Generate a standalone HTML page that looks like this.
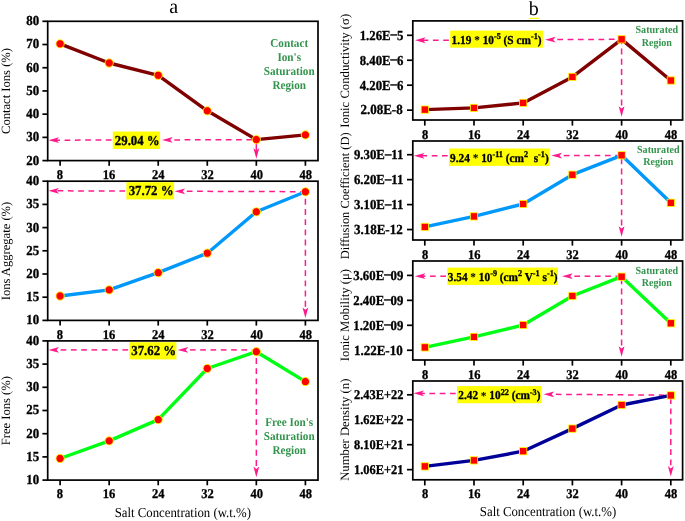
<!DOCTYPE html><html><head><meta charset="utf-8"><style>html,body{margin:0;padding:0;background:#fff;}body{width:685px;height:521px;overflow:hidden;}svg{display:block;will-change:transform;}text{font-family:"Liberation Serif",serif;text-rendering:geometricPrecision;}</style></head><body>
<svg width="685" height="521" viewBox="0 0 685 521">
<rect width="685" height="521" fill="#fff"/>
<text x="173.6" y="13.1" font-size="20" text-anchor="middle" font-weight="normal" fill="#000">a</text>
<text x="533.7" y="14.6" font-size="20" text-anchor="middle" font-weight="normal" fill="#000">b</text>
<line x1="528.9" y1="18.4" x2="538.9" y2="18.4" stroke="#ffff00" stroke-width="1.2"/>
<line x1="42.4" y1="160.6" x2="47.7" y2="160.6" stroke="#000" stroke-width="1.7"/>
<text transform="translate(39.2,164.5) scale(1,1.07)" font-size="12.9" text-anchor="end" font-weight="bold" fill="#000" stroke="#000" stroke-width="0.3">20</text>
<line x1="42.4" y1="137.38" x2="47.7" y2="137.38" stroke="#000" stroke-width="1.7"/>
<text transform="translate(39.2,141.28) scale(1,1.07)" font-size="12.9" text-anchor="end" font-weight="bold" fill="#000" stroke="#000" stroke-width="0.3">30</text>
<line x1="42.4" y1="114.17" x2="47.7" y2="114.17" stroke="#000" stroke-width="1.7"/>
<text transform="translate(39.2,118.07) scale(1,1.07)" font-size="12.9" text-anchor="end" font-weight="bold" fill="#000" stroke="#000" stroke-width="0.3">40</text>
<line x1="42.4" y1="90.95" x2="47.7" y2="90.95" stroke="#000" stroke-width="1.7"/>
<text transform="translate(39.2,94.85) scale(1,1.07)" font-size="12.9" text-anchor="end" font-weight="bold" fill="#000" stroke="#000" stroke-width="0.3">50</text>
<line x1="42.4" y1="67.73" x2="47.7" y2="67.73" stroke="#000" stroke-width="1.7"/>
<text transform="translate(39.2,71.63) scale(1,1.07)" font-size="12.9" text-anchor="end" font-weight="bold" fill="#000" stroke="#000" stroke-width="0.3">60</text>
<line x1="42.4" y1="44.52" x2="47.7" y2="44.52" stroke="#000" stroke-width="1.7"/>
<text transform="translate(39.2,48.42) scale(1,1.07)" font-size="12.9" text-anchor="end" font-weight="bold" fill="#000" stroke="#000" stroke-width="0.3">70</text>
<line x1="42.4" y1="21.3" x2="47.7" y2="21.3" stroke="#000" stroke-width="1.7"/>
<text transform="translate(39.2,25.2) scale(1,1.07)" font-size="12.9" text-anchor="end" font-weight="bold" fill="#000" stroke="#000" stroke-width="0.3">80</text>
<line x1="60.1" y1="160.6" x2="60.1" y2="165.8" stroke="#000" stroke-width="1.7"/>
<text transform="translate(59.95,178.9) scale(1,1.07)" font-size="12.5" text-anchor="middle" font-weight="bold" fill="#000" stroke="#000" stroke-width="0.3">8</text>
<line x1="109.16" y1="160.6" x2="109.16" y2="165.8" stroke="#000" stroke-width="1.7"/>
<text transform="translate(109.12,178.9) scale(1,1.07)" font-size="12.5" text-anchor="middle" font-weight="bold" fill="#000" stroke="#000" stroke-width="0.3">16</text>
<line x1="158.22" y1="160.6" x2="158.22" y2="165.8" stroke="#000" stroke-width="1.7"/>
<text transform="translate(158.29,178.9) scale(1,1.07)" font-size="12.5" text-anchor="middle" font-weight="bold" fill="#000" stroke="#000" stroke-width="0.3">24</text>
<line x1="207.28" y1="160.6" x2="207.28" y2="165.8" stroke="#000" stroke-width="1.7"/>
<text transform="translate(207.46,178.9) scale(1,1.07)" font-size="12.5" text-anchor="middle" font-weight="bold" fill="#000" stroke="#000" stroke-width="0.3">32</text>
<line x1="256.34" y1="160.6" x2="256.34" y2="165.8" stroke="#000" stroke-width="1.7"/>
<text transform="translate(256.63,178.9) scale(1,1.07)" font-size="12.5" text-anchor="middle" font-weight="bold" fill="#000" stroke="#000" stroke-width="0.3">40</text>
<line x1="305.4" y1="160.6" x2="305.4" y2="165.8" stroke="#000" stroke-width="1.7"/>
<text transform="translate(305.8,178.9) scale(1,1.07)" font-size="12.5" text-anchor="middle" font-weight="bold" fill="#000" stroke="#000" stroke-width="0.3">48</text>
<rect x="47.7" y="21.3" width="270.3" height="139.3" fill="none" stroke="#000" stroke-width="1.7"/>
<text transform="translate(9.6,91) rotate(-90)" font-size="12.6" text-anchor="middle" fill="#000">Contact Ions (%)</text>
<line x1="174.3" y1="139.9" x2="180" y2="139.88" stroke="#ff1a8c" stroke-width="1.5"/>
<line x1="184.6" y1="139.87" x2="190.3" y2="139.86" stroke="#ff1a8c" stroke-width="1.5"/>
<line x1="194.9" y1="139.85" x2="200.6" y2="139.83" stroke="#ff1a8c" stroke-width="1.5"/>
<line x1="205.2" y1="139.82" x2="210.9" y2="139.81" stroke="#ff1a8c" stroke-width="1.5"/>
<line x1="215.5" y1="139.8" x2="221.2" y2="139.78" stroke="#ff1a8c" stroke-width="1.5"/>
<line x1="225.8" y1="139.77" x2="231.5" y2="139.76" stroke="#ff1a8c" stroke-width="1.5"/>
<line x1="236.1" y1="139.75" x2="241.8" y2="139.73" stroke="#ff1a8c" stroke-width="1.5"/>
<line x1="246.4" y1="139.72" x2="252.1" y2="139.71" stroke="#ff1a8c" stroke-width="1.5"/>
<path d="M162,139.93 L172.6,137 L170.2,139.91 L172.6,142.8 Z" fill="#ff1a8c"/>
<line x1="111.5" y1="140.05" x2="105.8" y2="140.06" stroke="#ff1a8c" stroke-width="1.5"/>
<line x1="101.2" y1="140.07" x2="95.5" y2="140.09" stroke="#ff1a8c" stroke-width="1.5"/>
<line x1="90.9" y1="140.1" x2="85.2" y2="140.11" stroke="#ff1a8c" stroke-width="1.5"/>
<line x1="80.6" y1="140.12" x2="74.9" y2="140.14" stroke="#ff1a8c" stroke-width="1.5"/>
<line x1="70.3" y1="140.15" x2="64.6" y2="140.16" stroke="#ff1a8c" stroke-width="1.5"/>
<line x1="60" y1="140.17" x2="55.9" y2="140.18" stroke="#ff1a8c" stroke-width="1.5"/>
<path d="M48.4,140.2 L59,137.27 L56.6,140.18 L59,143.07 Z" fill="#ff1a8c"/>
<line x1="256.34" y1="139.6" x2="256.34" y2="150.8" stroke="#ff1a8c" stroke-width="1.5"/>
<path d="M256.34,158.8 L253.44,148.2 L256.34,150.6 L259.24,148.2 Z" fill="#ff1a8c"/>
<polyline points="60.1,43.8 109.16,63 158.22,75.3 207.28,110.8 256.34,139.6 305.4,134.9" fill="none" stroke="#800000" stroke-width="3.4" stroke-linejoin="round"/>
<circle cx="60.1" cy="43.8" r="4.15" fill="#ff0000" stroke="#ffff00" stroke-width="0.9"/>
<circle cx="109.16" cy="63" r="4.15" fill="#ff0000" stroke="#ffff00" stroke-width="0.9"/>
<circle cx="158.22" cy="75.3" r="4.15" fill="#ff0000" stroke="#ffff00" stroke-width="0.9"/>
<circle cx="207.28" cy="110.8" r="4.15" fill="#ff0000" stroke="#ffff00" stroke-width="0.9"/>
<circle cx="256.34" cy="139.6" r="4.15" fill="#ff0000" stroke="#ffff00" stroke-width="0.9"/>
<circle cx="305.4" cy="134.9" r="4.15" fill="#ff0000" stroke="#ffff00" stroke-width="0.9"/>
<rect x="112.8" y="131.5" width="47.3" height="17.5" fill="#ffff00"/>
<text transform="translate(137.25,144.7) scale(1,1.07)" font-size="12.8" text-anchor="middle" font-weight="bold" fill="#000" stroke="#000" stroke-width="0.3">29.04 %</text>
<text transform="translate(289.2,46.6) scale(1,1.07)" font-size="11.2" text-anchor="middle" font-weight="bold" fill="#34944d">Contact</text>
<text transform="translate(289.2,60.7) scale(1,1.07)" font-size="11.2" text-anchor="middle" font-weight="bold" fill="#34944d">Ion's</text>
<text transform="translate(289.2,74.7) scale(1,1.07)" font-size="11.2" text-anchor="middle" font-weight="bold" fill="#34944d">Saturation</text>
<text transform="translate(289.2,88.7) scale(1,1.07)" font-size="11.2" text-anchor="middle" font-weight="bold" fill="#34944d">Region</text>
<line x1="42.4" y1="320.4" x2="47.7" y2="320.4" stroke="#000" stroke-width="1.7"/>
<text transform="translate(39.2,324.3) scale(1,1.07)" font-size="12.9" text-anchor="end" font-weight="bold" fill="#000" stroke="#000" stroke-width="0.3">10</text>
<line x1="42.4" y1="297.2" x2="47.7" y2="297.2" stroke="#000" stroke-width="1.7"/>
<text transform="translate(39.2,301.1) scale(1,1.07)" font-size="12.9" text-anchor="end" font-weight="bold" fill="#000" stroke="#000" stroke-width="0.3">15</text>
<line x1="42.4" y1="274" x2="47.7" y2="274" stroke="#000" stroke-width="1.7"/>
<text transform="translate(39.2,277.9) scale(1,1.07)" font-size="12.9" text-anchor="end" font-weight="bold" fill="#000" stroke="#000" stroke-width="0.3">20</text>
<line x1="42.4" y1="250.8" x2="47.7" y2="250.8" stroke="#000" stroke-width="1.7"/>
<text transform="translate(39.2,254.7) scale(1,1.07)" font-size="12.9" text-anchor="end" font-weight="bold" fill="#000" stroke="#000" stroke-width="0.3">25</text>
<line x1="42.4" y1="227.6" x2="47.7" y2="227.6" stroke="#000" stroke-width="1.7"/>
<text transform="translate(39.2,231.5) scale(1,1.07)" font-size="12.9" text-anchor="end" font-weight="bold" fill="#000" stroke="#000" stroke-width="0.3">30</text>
<line x1="42.4" y1="204.4" x2="47.7" y2="204.4" stroke="#000" stroke-width="1.7"/>
<text transform="translate(39.2,208.3) scale(1,1.07)" font-size="12.9" text-anchor="end" font-weight="bold" fill="#000" stroke="#000" stroke-width="0.3">35</text>
<line x1="42.4" y1="181.2" x2="47.7" y2="181.2" stroke="#000" stroke-width="1.7"/>
<text transform="translate(39.2,185.1) scale(1,1.07)" font-size="12.9" text-anchor="end" font-weight="bold" fill="#000" stroke="#000" stroke-width="0.3">40</text>
<line x1="60.1" y1="320.4" x2="60.1" y2="325.6" stroke="#000" stroke-width="1.7"/>
<text transform="translate(59.95,338.7) scale(1,1.07)" font-size="12.5" text-anchor="middle" font-weight="bold" fill="#000" stroke="#000" stroke-width="0.3">8</text>
<line x1="109.16" y1="320.4" x2="109.16" y2="325.6" stroke="#000" stroke-width="1.7"/>
<text transform="translate(109.12,338.7) scale(1,1.07)" font-size="12.5" text-anchor="middle" font-weight="bold" fill="#000" stroke="#000" stroke-width="0.3">16</text>
<line x1="158.22" y1="320.4" x2="158.22" y2="325.6" stroke="#000" stroke-width="1.7"/>
<text transform="translate(158.29,338.7) scale(1,1.07)" font-size="12.5" text-anchor="middle" font-weight="bold" fill="#000" stroke="#000" stroke-width="0.3">24</text>
<line x1="207.28" y1="320.4" x2="207.28" y2="325.6" stroke="#000" stroke-width="1.7"/>
<text transform="translate(207.46,338.7) scale(1,1.07)" font-size="12.5" text-anchor="middle" font-weight="bold" fill="#000" stroke="#000" stroke-width="0.3">32</text>
<line x1="256.34" y1="320.4" x2="256.34" y2="325.6" stroke="#000" stroke-width="1.7"/>
<text transform="translate(256.63,338.7) scale(1,1.07)" font-size="12.5" text-anchor="middle" font-weight="bold" fill="#000" stroke="#000" stroke-width="0.3">40</text>
<line x1="305.4" y1="320.4" x2="305.4" y2="325.6" stroke="#000" stroke-width="1.7"/>
<text transform="translate(305.8,338.7) scale(1,1.07)" font-size="12.5" text-anchor="middle" font-weight="bold" fill="#000" stroke="#000" stroke-width="0.3">48</text>
<rect x="47.7" y="181.2" width="270.3" height="139.2" fill="none" stroke="#000" stroke-width="1.7"/>
<text transform="translate(9.6,251) rotate(-90)" font-size="12.6" text-anchor="middle" fill="#000">Ions Aggregate (%)</text>
<line x1="186.8" y1="191.28" x2="192.5" y2="191.3" stroke="#ff1a8c" stroke-width="1.5"/>
<line x1="197.1" y1="191.32" x2="202.8" y2="191.34" stroke="#ff1a8c" stroke-width="1.5"/>
<line x1="207.4" y1="191.36" x2="213.1" y2="191.38" stroke="#ff1a8c" stroke-width="1.5"/>
<line x1="217.7" y1="191.39" x2="223.4" y2="191.41" stroke="#ff1a8c" stroke-width="1.5"/>
<line x1="228" y1="191.43" x2="233.7" y2="191.45" stroke="#ff1a8c" stroke-width="1.5"/>
<line x1="238.3" y1="191.47" x2="244" y2="191.48" stroke="#ff1a8c" stroke-width="1.5"/>
<line x1="248.6" y1="191.5" x2="254.3" y2="191.52" stroke="#ff1a8c" stroke-width="1.5"/>
<line x1="258.9" y1="191.54" x2="264.6" y2="191.56" stroke="#ff1a8c" stroke-width="1.5"/>
<line x1="269.2" y1="191.57" x2="274.9" y2="191.59" stroke="#ff1a8c" stroke-width="1.5"/>
<line x1="279.5" y1="191.61" x2="285.2" y2="191.63" stroke="#ff1a8c" stroke-width="1.5"/>
<line x1="289.8" y1="191.65" x2="295.5" y2="191.67" stroke="#ff1a8c" stroke-width="1.5"/>
<line x1="300.1" y1="191.68" x2="301.4" y2="191.69" stroke="#ff1a8c" stroke-width="1.5"/>
<path d="M174.5,191.24 L185.1,188.38 L182.7,191.27 L185.1,194.18 Z" fill="#ff1a8c"/>
<line x1="125.1" y1="191.07" x2="119.4" y2="191.05" stroke="#ff1a8c" stroke-width="1.5"/>
<line x1="114.8" y1="191.03" x2="109.1" y2="191.01" stroke="#ff1a8c" stroke-width="1.5"/>
<line x1="104.5" y1="191" x2="98.8" y2="190.98" stroke="#ff1a8c" stroke-width="1.5"/>
<line x1="94.2" y1="190.96" x2="88.5" y2="190.94" stroke="#ff1a8c" stroke-width="1.5"/>
<line x1="83.9" y1="190.92" x2="78.2" y2="190.9" stroke="#ff1a8c" stroke-width="1.5"/>
<line x1="73.6" y1="190.89" x2="67.9" y2="190.87" stroke="#ff1a8c" stroke-width="1.5"/>
<line x1="63.3" y1="190.85" x2="57.6" y2="190.83" stroke="#ff1a8c" stroke-width="1.5"/>
<path d="M48.4,190.8 L59,187.94 L56.6,190.83 L59,193.74 Z" fill="#ff1a8c"/>
<line x1="305.4" y1="306.7" x2="305.4" y2="191.8" stroke="#ff1a8c" stroke-width="1.5" stroke-dasharray="5.9 4.3"/>
<path d="M305.4,318 L302.5,307.4 L305.4,309.8 L308.3,307.4 Z" fill="#ff1a8c"/>
<polyline points="60.1,296 109.16,289.9 158.22,272.7 207.28,253.2 256.34,211.8 305.4,191.8" fill="none" stroke="#0098fa" stroke-width="3.4" stroke-linejoin="round"/>
<circle cx="60.1" cy="296" r="4.15" fill="#ff0000" stroke="#ffff00" stroke-width="0.9"/>
<circle cx="109.16" cy="289.9" r="4.15" fill="#ff0000" stroke="#ffff00" stroke-width="0.9"/>
<circle cx="158.22" cy="272.7" r="4.15" fill="#ff0000" stroke="#ffff00" stroke-width="0.9"/>
<circle cx="207.28" cy="253.2" r="4.15" fill="#ff0000" stroke="#ffff00" stroke-width="0.9"/>
<circle cx="256.34" cy="211.8" r="4.15" fill="#ff0000" stroke="#ffff00" stroke-width="0.9"/>
<circle cx="305.4" cy="191.8" r="4.15" fill="#ff0000" stroke="#ffff00" stroke-width="0.9"/>
<rect x="126.4" y="182.2" width="47.7" height="17.2" fill="#ffff00"/>
<text transform="translate(151.05,195.1) scale(1,1.07)" font-size="12.8" text-anchor="middle" font-weight="bold" fill="#000" stroke="#000" stroke-width="0.3">37.72 %</text>
<line x1="42.4" y1="480.1" x2="47.7" y2="480.1" stroke="#000" stroke-width="1.7"/>
<text transform="translate(39.2,484) scale(1,1.07)" font-size="12.9" text-anchor="end" font-weight="bold" fill="#000" stroke="#000" stroke-width="0.3">10</text>
<line x1="42.4" y1="456.9" x2="47.7" y2="456.9" stroke="#000" stroke-width="1.7"/>
<text transform="translate(39.2,460.8) scale(1,1.07)" font-size="12.9" text-anchor="end" font-weight="bold" fill="#000" stroke="#000" stroke-width="0.3">15</text>
<line x1="42.4" y1="433.7" x2="47.7" y2="433.7" stroke="#000" stroke-width="1.7"/>
<text transform="translate(39.2,437.6) scale(1,1.07)" font-size="12.9" text-anchor="end" font-weight="bold" fill="#000" stroke="#000" stroke-width="0.3">20</text>
<line x1="42.4" y1="410.5" x2="47.7" y2="410.5" stroke="#000" stroke-width="1.7"/>
<text transform="translate(39.2,414.4) scale(1,1.07)" font-size="12.9" text-anchor="end" font-weight="bold" fill="#000" stroke="#000" stroke-width="0.3">25</text>
<line x1="42.4" y1="387.3" x2="47.7" y2="387.3" stroke="#000" stroke-width="1.7"/>
<text transform="translate(39.2,391.2) scale(1,1.07)" font-size="12.9" text-anchor="end" font-weight="bold" fill="#000" stroke="#000" stroke-width="0.3">30</text>
<line x1="42.4" y1="364.1" x2="47.7" y2="364.1" stroke="#000" stroke-width="1.7"/>
<text transform="translate(39.2,368) scale(1,1.07)" font-size="12.9" text-anchor="end" font-weight="bold" fill="#000" stroke="#000" stroke-width="0.3">35</text>
<line x1="42.4" y1="340.9" x2="47.7" y2="340.9" stroke="#000" stroke-width="1.7"/>
<text transform="translate(39.2,344.8) scale(1,1.07)" font-size="12.9" text-anchor="end" font-weight="bold" fill="#000" stroke="#000" stroke-width="0.3">40</text>
<line x1="60.1" y1="480.1" x2="60.1" y2="485.3" stroke="#000" stroke-width="1.7"/>
<text transform="translate(59.95,498.4) scale(1,1.07)" font-size="12.5" text-anchor="middle" font-weight="bold" fill="#000" stroke="#000" stroke-width="0.3">8</text>
<line x1="109.16" y1="480.1" x2="109.16" y2="485.3" stroke="#000" stroke-width="1.7"/>
<text transform="translate(109.12,498.4) scale(1,1.07)" font-size="12.5" text-anchor="middle" font-weight="bold" fill="#000" stroke="#000" stroke-width="0.3">16</text>
<line x1="158.22" y1="480.1" x2="158.22" y2="485.3" stroke="#000" stroke-width="1.7"/>
<text transform="translate(158.29,498.4) scale(1,1.07)" font-size="12.5" text-anchor="middle" font-weight="bold" fill="#000" stroke="#000" stroke-width="0.3">24</text>
<line x1="207.28" y1="480.1" x2="207.28" y2="485.3" stroke="#000" stroke-width="1.7"/>
<text transform="translate(207.46,498.4) scale(1,1.07)" font-size="12.5" text-anchor="middle" font-weight="bold" fill="#000" stroke="#000" stroke-width="0.3">32</text>
<line x1="256.34" y1="480.1" x2="256.34" y2="485.3" stroke="#000" stroke-width="1.7"/>
<text transform="translate(256.63,498.4) scale(1,1.07)" font-size="12.5" text-anchor="middle" font-weight="bold" fill="#000" stroke="#000" stroke-width="0.3">40</text>
<line x1="305.4" y1="480.1" x2="305.4" y2="485.3" stroke="#000" stroke-width="1.7"/>
<text transform="translate(305.8,498.4) scale(1,1.07)" font-size="12.5" text-anchor="middle" font-weight="bold" fill="#000" stroke="#000" stroke-width="0.3">48</text>
<rect x="47.7" y="340.9" width="270.3" height="139.2" fill="none" stroke="#000" stroke-width="1.7"/>
<text transform="translate(9.6,410.65) rotate(-90)" font-size="12.6" text-anchor="middle" fill="#000">Free Ions (%)</text>
<line x1="189.9" y1="349.9" x2="195.6" y2="349.9" stroke="#ff1a8c" stroke-width="1.5"/>
<line x1="200.2" y1="349.9" x2="205.9" y2="349.9" stroke="#ff1a8c" stroke-width="1.5"/>
<line x1="210.5" y1="349.9" x2="216.2" y2="349.9" stroke="#ff1a8c" stroke-width="1.5"/>
<line x1="220.8" y1="349.9" x2="226.5" y2="349.9" stroke="#ff1a8c" stroke-width="1.5"/>
<line x1="231.1" y1="349.9" x2="236.8" y2="349.9" stroke="#ff1a8c" stroke-width="1.5"/>
<line x1="241.4" y1="349.9" x2="247.1" y2="349.9" stroke="#ff1a8c" stroke-width="1.5"/>
<line x1="251.7" y1="349.9" x2="252.34" y2="349.9" stroke="#ff1a8c" stroke-width="1.5"/>
<path d="M177.6,349.9 L188.2,347 L185.8,349.9 L188.2,352.8 Z" fill="#ff1a8c"/>
<line x1="128.1" y1="349.9" x2="122.4" y2="349.9" stroke="#ff1a8c" stroke-width="1.5"/>
<line x1="117.8" y1="349.9" x2="112.1" y2="349.9" stroke="#ff1a8c" stroke-width="1.5"/>
<line x1="107.5" y1="349.9" x2="101.8" y2="349.9" stroke="#ff1a8c" stroke-width="1.5"/>
<line x1="97.2" y1="349.9" x2="91.5" y2="349.9" stroke="#ff1a8c" stroke-width="1.5"/>
<line x1="86.9" y1="349.9" x2="81.2" y2="349.9" stroke="#ff1a8c" stroke-width="1.5"/>
<line x1="76.6" y1="349.9" x2="70.9" y2="349.9" stroke="#ff1a8c" stroke-width="1.5"/>
<line x1="66.3" y1="349.9" x2="60.6" y2="349.9" stroke="#ff1a8c" stroke-width="1.5"/>
<path d="M48.4,349.9 L59,347 L56.6,349.9 L59,352.8 Z" fill="#ff1a8c"/>
<line x1="256.34" y1="465.9" x2="256.34" y2="351.7" stroke="#ff1a8c" stroke-width="1.5" stroke-dasharray="5.9 4.3"/>
<path d="M256.34,477.2 L253.44,466.6 L256.34,469 L259.24,466.6 Z" fill="#ff1a8c"/>
<polyline points="60.1,458.5 109.16,440.9 158.22,419.6 207.28,368.5 256.34,351.7 305.4,381.6" fill="none" stroke="#00ff14" stroke-width="3.4" stroke-linejoin="round"/>
<circle cx="60.1" cy="458.5" r="4.15" fill="#ff0000" stroke="#ffff00" stroke-width="0.9"/>
<circle cx="109.16" cy="440.9" r="4.15" fill="#ff0000" stroke="#ffff00" stroke-width="0.9"/>
<circle cx="158.22" cy="419.6" r="4.15" fill="#ff0000" stroke="#ffff00" stroke-width="0.9"/>
<circle cx="207.28" cy="368.5" r="4.15" fill="#ff0000" stroke="#ffff00" stroke-width="0.9"/>
<circle cx="256.34" cy="351.7" r="4.15" fill="#ff0000" stroke="#ffff00" stroke-width="0.9"/>
<circle cx="305.4" cy="381.6" r="4.15" fill="#ff0000" stroke="#ffff00" stroke-width="0.9"/>
<rect x="129.4" y="342.2" width="47" height="17.2" fill="#ffff00"/>
<text transform="translate(153.7,355.1) scale(1,1.07)" font-size="12.8" text-anchor="middle" font-weight="bold" fill="#000" stroke="#000" stroke-width="0.3">37.62 %</text>
<text transform="translate(289.2,426.1) scale(1,1.07)" font-size="11.2" text-anchor="middle" font-weight="bold" fill="#34944d">Free Ion's</text>
<text transform="translate(289.2,440.1) scale(1,1.07)" font-size="11.2" text-anchor="middle" font-weight="bold" fill="#34944d">Saturation</text>
<text transform="translate(289.2,454.2) scale(1,1.07)" font-size="11.2" text-anchor="middle" font-weight="bold" fill="#34944d">Region</text>
<text transform="translate(182.8,516.8) scale(1,1.07)" font-size="12.8" text-anchor="middle" font-weight="normal" fill="#000">Salt Concentration (w.t.%)</text>
<line x1="407" y1="35.3" x2="412.8" y2="35.3" stroke="#000" stroke-width="1.7"/>
<text transform="translate(403.4,39.6) scale(1,1.07)" font-size="12.8" text-anchor="end" font-weight="bold" fill="#000" stroke="#000" stroke-width="0.3">1.26E<tspan dy="-1.2">–</tspan><tspan dy="1.2">5</tspan></text>
<line x1="407" y1="60.25" x2="412.8" y2="60.25" stroke="#000" stroke-width="1.7"/>
<text transform="translate(403.4,64.55) scale(1,1.07)" font-size="12.8" text-anchor="end" font-weight="bold" fill="#000" stroke="#000" stroke-width="0.3">8.40E<tspan dy="-1.2">–</tspan><tspan dy="1.2">6</tspan></text>
<line x1="407" y1="85.2" x2="412.8" y2="85.2" stroke="#000" stroke-width="1.7"/>
<text transform="translate(403.4,89.5) scale(1,1.07)" font-size="12.8" text-anchor="end" font-weight="bold" fill="#000" stroke="#000" stroke-width="0.3">4.20E<tspan dy="-1.2">–</tspan><tspan dy="1.2">6</tspan></text>
<line x1="407" y1="110.15" x2="412.8" y2="110.15" stroke="#000" stroke-width="1.7"/>
<text transform="translate(402.7,114.45) scale(1,1.07)" font-size="13" text-anchor="end" font-weight="bold" fill="#000" stroke="#000" stroke-width="0.3">2.08E-8</text>
<line x1="424.8" y1="120" x2="424.8" y2="125.6" stroke="#000" stroke-width="1.7"/>
<text transform="translate(425,138.6) scale(1,1.07)" font-size="12.5" text-anchor="middle" font-weight="bold" fill="#000" stroke="#000" stroke-width="0.3">8</text>
<line x1="474" y1="120" x2="474" y2="125.6" stroke="#000" stroke-width="1.7"/>
<text transform="translate(474.18,138.6) scale(1,1.07)" font-size="12.5" text-anchor="middle" font-weight="bold" fill="#000" stroke="#000" stroke-width="0.3">16</text>
<line x1="523.2" y1="120" x2="523.2" y2="125.6" stroke="#000" stroke-width="1.7"/>
<text transform="translate(523.36,138.6) scale(1,1.07)" font-size="12.5" text-anchor="middle" font-weight="bold" fill="#000" stroke="#000" stroke-width="0.3">24</text>
<line x1="572.4" y1="120" x2="572.4" y2="125.6" stroke="#000" stroke-width="1.7"/>
<text transform="translate(572.54,138.6) scale(1,1.07)" font-size="12.5" text-anchor="middle" font-weight="bold" fill="#000" stroke="#000" stroke-width="0.3">32</text>
<line x1="621.6" y1="120" x2="621.6" y2="125.6" stroke="#000" stroke-width="1.7"/>
<text transform="translate(621.72,138.6) scale(1,1.07)" font-size="12.5" text-anchor="middle" font-weight="bold" fill="#000" stroke="#000" stroke-width="0.3">40</text>
<line x1="670.8" y1="120" x2="670.8" y2="125.6" stroke="#000" stroke-width="1.7"/>
<text transform="translate(670.9,138.6) scale(1,1.07)" font-size="12.5" text-anchor="middle" font-weight="bold" fill="#000" stroke="#000" stroke-width="0.3">48</text>
<rect x="412.8" y="20.9" width="269.8" height="99.1" fill="none" stroke="#000" stroke-width="1.7"/>
<text transform="translate(349.1,70.85) rotate(-90)" font-size="12.7" text-anchor="middle" fill="#000">Ionic Conductivity (σ)</text>
<line x1="557.3" y1="39.61" x2="563" y2="39.58" stroke="#ff1a8c" stroke-width="1.5"/>
<line x1="567.6" y1="39.56" x2="573.3" y2="39.53" stroke="#ff1a8c" stroke-width="1.5"/>
<line x1="577.9" y1="39.51" x2="583.6" y2="39.48" stroke="#ff1a8c" stroke-width="1.5"/>
<line x1="588.2" y1="39.46" x2="593.9" y2="39.43" stroke="#ff1a8c" stroke-width="1.5"/>
<line x1="598.5" y1="39.41" x2="604.2" y2="39.38" stroke="#ff1a8c" stroke-width="1.5"/>
<line x1="608.8" y1="39.36" x2="614.5" y2="39.33" stroke="#ff1a8c" stroke-width="1.5"/>
<path d="M545,39.67 L555.6,36.72 L553.2,39.63 L555.6,42.52 Z" fill="#ff1a8c"/>
<line x1="448.9" y1="40.14" x2="443.2" y2="40.16" stroke="#ff1a8c" stroke-width="1.5"/>
<line x1="438.6" y1="40.19" x2="432.9" y2="40.21" stroke="#ff1a8c" stroke-width="1.5"/>
<line x1="428.3" y1="40.24" x2="422.6" y2="40.26" stroke="#ff1a8c" stroke-width="1.5"/>
<path d="M415,40.3 L425.6,37.35 L423.2,40.26 L425.6,43.15 Z" fill="#ff1a8c"/>
<line x1="621.6" y1="105.5" x2="621.6" y2="39.35" stroke="#ff1a8c" stroke-width="1.5" stroke-dasharray="5.9 4.3"/>
<path d="M621.6,116.8 L618.7,106.2 L621.6,108.6 L624.5,106.2 Z" fill="#ff1a8c"/>
<polyline points="424.8,109.6 474,107.9 523.2,102.9 572.4,76.9 621.6,39.35 670.8,80.5" fill="none" stroke="#800000" stroke-width="3.4" stroke-linejoin="round"/>
<rect x="421.15" y="105.95" width="7.3" height="7.3" fill="#ff0000" stroke="#ffff00" stroke-width="0.8"/>
<rect x="470.35" y="104.25" width="7.3" height="7.3" fill="#ff0000" stroke="#ffff00" stroke-width="0.8"/>
<rect x="519.55" y="99.25" width="7.3" height="7.3" fill="#ff0000" stroke="#ffff00" stroke-width="0.8"/>
<rect x="568.75" y="73.25" width="7.3" height="7.3" fill="#ff0000" stroke="#ffff00" stroke-width="0.8"/>
<rect x="617.95" y="35.7" width="7.3" height="7.3" fill="#ff0000" stroke="#ffff00" stroke-width="0.8"/>
<rect x="667.15" y="76.85" width="7.3" height="7.3" fill="#ff0000" stroke="#ffff00" stroke-width="0.8"/>
<rect x="450.2" y="30.6" width="92.7" height="17.1" fill="#ffff00"/>
<text transform="translate(496.55,43.9) scale(1,1.07)" font-size="11.3" text-anchor="middle" font-weight="bold" fill="#000" stroke="#000" stroke-width="0.3">1.19 <tspan dy="0.3" stroke-width="0">*</tspan><tspan dy="-0.3"> </tspan>10<tspan dy="-4.4" font-size="8.2">-5</tspan><tspan dy="4.4"> (S cm</tspan><tspan dy="-4.4" font-size="8.2">-1</tspan><tspan dy="4.4">)</tspan></text>
<text transform="translate(656.8,33.4) scale(1,1.07)" font-size="10.1" text-anchor="middle" font-weight="bold" fill="#34944d">Saturated</text>
<text transform="translate(656.8,45.7) scale(1,1.07)" font-size="10.1" text-anchor="middle" font-weight="bold" fill="#34944d">Region</text>
<line x1="407" y1="154.7" x2="412.8" y2="154.7" stroke="#000" stroke-width="1.7"/>
<text transform="translate(403.4,159) scale(1,1.07)" font-size="12.8" text-anchor="end" font-weight="bold" fill="#000" stroke="#000" stroke-width="0.3">9.30E<tspan dy="-1.2">–</tspan><tspan dy="1.2">11</tspan></text>
<line x1="407" y1="179.65" x2="412.8" y2="179.65" stroke="#000" stroke-width="1.7"/>
<text transform="translate(403.4,183.95) scale(1,1.07)" font-size="12.8" text-anchor="end" font-weight="bold" fill="#000" stroke="#000" stroke-width="0.3">6.20E<tspan dy="-1.2">–</tspan><tspan dy="1.2">11</tspan></text>
<line x1="407" y1="204.6" x2="412.8" y2="204.6" stroke="#000" stroke-width="1.7"/>
<text transform="translate(403.4,208.9) scale(1,1.07)" font-size="12.8" text-anchor="end" font-weight="bold" fill="#000" stroke="#000" stroke-width="0.3">3.10E<tspan dy="-1.2">–</tspan><tspan dy="1.2">11</tspan></text>
<line x1="407" y1="229.55" x2="412.8" y2="229.55" stroke="#000" stroke-width="1.7"/>
<text transform="translate(402.7,233.85) scale(1,1.07)" font-size="13" text-anchor="end" font-weight="bold" fill="#000" stroke="#000" stroke-width="0.3">3.18E-12</text>
<line x1="424.8" y1="240" x2="424.8" y2="245.6" stroke="#000" stroke-width="1.7"/>
<text transform="translate(425,258.6) scale(1,1.07)" font-size="12.5" text-anchor="middle" font-weight="bold" fill="#000" stroke="#000" stroke-width="0.3">8</text>
<line x1="474" y1="240" x2="474" y2="245.6" stroke="#000" stroke-width="1.7"/>
<text transform="translate(474.18,258.6) scale(1,1.07)" font-size="12.5" text-anchor="middle" font-weight="bold" fill="#000" stroke="#000" stroke-width="0.3">16</text>
<line x1="523.2" y1="240" x2="523.2" y2="245.6" stroke="#000" stroke-width="1.7"/>
<text transform="translate(523.36,258.6) scale(1,1.07)" font-size="12.5" text-anchor="middle" font-weight="bold" fill="#000" stroke="#000" stroke-width="0.3">24</text>
<line x1="572.4" y1="240" x2="572.4" y2="245.6" stroke="#000" stroke-width="1.7"/>
<text transform="translate(572.54,258.6) scale(1,1.07)" font-size="12.5" text-anchor="middle" font-weight="bold" fill="#000" stroke="#000" stroke-width="0.3">32</text>
<line x1="621.6" y1="240" x2="621.6" y2="245.6" stroke="#000" stroke-width="1.7"/>
<text transform="translate(621.72,258.6) scale(1,1.07)" font-size="12.5" text-anchor="middle" font-weight="bold" fill="#000" stroke="#000" stroke-width="0.3">40</text>
<line x1="670.8" y1="240" x2="670.8" y2="245.6" stroke="#000" stroke-width="1.7"/>
<text transform="translate(670.9,258.6) scale(1,1.07)" font-size="12.5" text-anchor="middle" font-weight="bold" fill="#000" stroke="#000" stroke-width="0.3">48</text>
<rect x="412.8" y="141" width="269.8" height="99" fill="none" stroke="#000" stroke-width="1.7"/>
<text transform="translate(349.1,195.8) rotate(-90)" font-size="12.45" text-anchor="middle" fill="#000">Diffusion Coefficient (D)</text>
<line x1="563.7" y1="155.58" x2="569.4" y2="155.58" stroke="#ff1a8c" stroke-width="1.5"/>
<line x1="574" y1="155.57" x2="579.7" y2="155.56" stroke="#ff1a8c" stroke-width="1.5"/>
<line x1="584.3" y1="155.55" x2="590" y2="155.55" stroke="#ff1a8c" stroke-width="1.5"/>
<line x1="594.6" y1="155.54" x2="600.3" y2="155.53" stroke="#ff1a8c" stroke-width="1.5"/>
<line x1="604.9" y1="155.52" x2="610.6" y2="155.52" stroke="#ff1a8c" stroke-width="1.5"/>
<line x1="615.2" y1="155.51" x2="617.6" y2="155.51" stroke="#ff1a8c" stroke-width="1.5"/>
<path d="M551.4,155.6 L562,152.69 L559.6,155.59 L562,158.49 Z" fill="#ff1a8c"/>
<line x1="447.7" y1="155.75" x2="442" y2="155.76" stroke="#ff1a8c" stroke-width="1.5"/>
<line x1="437.4" y1="155.77" x2="431.7" y2="155.77" stroke="#ff1a8c" stroke-width="1.5"/>
<line x1="427.1" y1="155.78" x2="421.4" y2="155.79" stroke="#ff1a8c" stroke-width="1.5"/>
<path d="M413.8,155.8 L424.4,152.88 L422,155.79 L424.4,158.68 Z" fill="#ff1a8c"/>
<line x1="621.6" y1="225.5" x2="621.6" y2="155.3" stroke="#ff1a8c" stroke-width="1.5" stroke-dasharray="5.9 4.3"/>
<path d="M621.6,236.8 L618.7,226.2 L621.6,228.6 L624.5,226.2 Z" fill="#ff1a8c"/>
<polyline points="424.8,226.9 474,216.4 523.2,204 572.4,174.7 621.6,155.3 670.8,202.8" fill="none" stroke="#0098fa" stroke-width="3.4" stroke-linejoin="round"/>
<rect x="421.15" y="223.25" width="7.3" height="7.3" fill="#ff0000" stroke="#ffff00" stroke-width="0.8"/>
<rect x="470.35" y="212.75" width="7.3" height="7.3" fill="#ff0000" stroke="#ffff00" stroke-width="0.8"/>
<rect x="519.55" y="200.35" width="7.3" height="7.3" fill="#ff0000" stroke="#ffff00" stroke-width="0.8"/>
<rect x="568.75" y="171.05" width="7.3" height="7.3" fill="#ff0000" stroke="#ffff00" stroke-width="0.8"/>
<rect x="617.95" y="151.65" width="7.3" height="7.3" fill="#ff0000" stroke="#ffff00" stroke-width="0.8"/>
<rect x="667.15" y="199.15" width="7.3" height="7.3" fill="#ff0000" stroke="#ffff00" stroke-width="0.8"/>
<rect x="449" y="148.5" width="100.7" height="17.4" fill="#ffff00"/>
<text transform="translate(499.35,162.1) scale(1,1.07)" font-size="11.3" text-anchor="middle" font-weight="bold" fill="#000" stroke="#000" stroke-width="0.3">9.24 <tspan dy="0.3" stroke-width="0">*</tspan><tspan dy="-0.3"> </tspan>10<tspan dy="-4.4" font-size="8.2">-11</tspan><tspan dy="4.4"> (cm</tspan><tspan dy="-4.4" font-size="8.2">2</tspan><tspan dy="4.4">&#160; s</tspan><tspan dy="-4.4" font-size="8.2">-1</tspan><tspan dy="4.4">)</tspan></text>
<text transform="translate(658.3,153) scale(1,1.07)" font-size="10.1" text-anchor="middle" font-weight="bold" fill="#34944d">Saturated</text>
<text transform="translate(658.3,165.3) scale(1,1.07)" font-size="10.1" text-anchor="middle" font-weight="bold" fill="#34944d">Region</text>
<line x1="407" y1="275.4" x2="412.8" y2="275.4" stroke="#000" stroke-width="1.7"/>
<text transform="translate(403.4,279.7) scale(1,1.07)" font-size="12.8" text-anchor="end" font-weight="bold" fill="#000" stroke="#000" stroke-width="0.3">3.60E<tspan dy="-1.2">–</tspan><tspan dy="1.2">09</tspan></text>
<line x1="407" y1="300.35" x2="412.8" y2="300.35" stroke="#000" stroke-width="1.7"/>
<text transform="translate(403.4,304.65) scale(1,1.07)" font-size="12.8" text-anchor="end" font-weight="bold" fill="#000" stroke="#000" stroke-width="0.3">2.40E<tspan dy="-1.2">–</tspan><tspan dy="1.2">09</tspan></text>
<line x1="407" y1="325.3" x2="412.8" y2="325.3" stroke="#000" stroke-width="1.7"/>
<text transform="translate(403.4,329.6) scale(1,1.07)" font-size="12.8" text-anchor="end" font-weight="bold" fill="#000" stroke="#000" stroke-width="0.3">1.20E<tspan dy="-1.2">–</tspan><tspan dy="1.2">09</tspan></text>
<line x1="407" y1="350.25" x2="412.8" y2="350.25" stroke="#000" stroke-width="1.7"/>
<text transform="translate(402.7,354.55) scale(1,1.07)" font-size="13" text-anchor="end" font-weight="bold" fill="#000" stroke="#000" stroke-width="0.3">1.22E-10</text>
<line x1="424.8" y1="360" x2="424.8" y2="365.6" stroke="#000" stroke-width="1.7"/>
<text transform="translate(425,378.6) scale(1,1.07)" font-size="12.5" text-anchor="middle" font-weight="bold" fill="#000" stroke="#000" stroke-width="0.3">8</text>
<line x1="474" y1="360" x2="474" y2="365.6" stroke="#000" stroke-width="1.7"/>
<text transform="translate(474.18,378.6) scale(1,1.07)" font-size="12.5" text-anchor="middle" font-weight="bold" fill="#000" stroke="#000" stroke-width="0.3">16</text>
<line x1="523.2" y1="360" x2="523.2" y2="365.6" stroke="#000" stroke-width="1.7"/>
<text transform="translate(523.36,378.6) scale(1,1.07)" font-size="12.5" text-anchor="middle" font-weight="bold" fill="#000" stroke="#000" stroke-width="0.3">24</text>
<line x1="572.4" y1="360" x2="572.4" y2="365.6" stroke="#000" stroke-width="1.7"/>
<text transform="translate(572.54,378.6) scale(1,1.07)" font-size="12.5" text-anchor="middle" font-weight="bold" fill="#000" stroke="#000" stroke-width="0.3">32</text>
<line x1="621.6" y1="360" x2="621.6" y2="365.6" stroke="#000" stroke-width="1.7"/>
<text transform="translate(621.72,378.6) scale(1,1.07)" font-size="12.5" text-anchor="middle" font-weight="bold" fill="#000" stroke="#000" stroke-width="0.3">40</text>
<line x1="670.8" y1="360" x2="670.8" y2="365.6" stroke="#000" stroke-width="1.7"/>
<text transform="translate(670.9,378.6) scale(1,1.07)" font-size="12.5" text-anchor="middle" font-weight="bold" fill="#000" stroke="#000" stroke-width="0.3">48</text>
<rect x="412.8" y="261" width="269.8" height="99" fill="none" stroke="#000" stroke-width="1.7"/>
<text transform="translate(349.1,315.1) rotate(-90)" font-size="12.7" text-anchor="middle" fill="#000">Ionic Mobility (μ)</text>
<line x1="574.3" y1="276.2" x2="580" y2="276.2" stroke="#ff1a8c" stroke-width="1.5"/>
<line x1="584.6" y1="276.2" x2="590.3" y2="276.2" stroke="#ff1a8c" stroke-width="1.5"/>
<line x1="594.9" y1="276.2" x2="600.6" y2="276.2" stroke="#ff1a8c" stroke-width="1.5"/>
<line x1="605.2" y1="276.2" x2="610.9" y2="276.2" stroke="#ff1a8c" stroke-width="1.5"/>
<line x1="615.5" y1="276.2" x2="617.6" y2="276.2" stroke="#ff1a8c" stroke-width="1.5"/>
<path d="M562,276.2 L572.6,273.3 L570.2,276.2 L572.6,279.1 Z" fill="#ff1a8c"/>
<line x1="446" y1="276.2" x2="440.3" y2="276.2" stroke="#ff1a8c" stroke-width="1.5"/>
<line x1="435.7" y1="276.2" x2="430" y2="276.2" stroke="#ff1a8c" stroke-width="1.5"/>
<line x1="425.4" y1="276.2" x2="422.3" y2="276.2" stroke="#ff1a8c" stroke-width="1.5"/>
<path d="M414.8,276.2 L425.4,273.3 L423,276.2 L425.4,279.1 Z" fill="#ff1a8c"/>
<line x1="621.6" y1="345.5" x2="621.6" y2="276.7" stroke="#ff1a8c" stroke-width="1.5" stroke-dasharray="5.9 4.3"/>
<path d="M621.6,356.8 L618.7,346.2 L621.6,348.6 L624.5,346.2 Z" fill="#ff1a8c"/>
<polyline points="424.8,347.4 474,336.9 523.2,325 572.4,296 621.6,276.7 670.8,323.3" fill="none" stroke="#00ff14" stroke-width="3.4" stroke-linejoin="round"/>
<rect x="421.15" y="343.75" width="7.3" height="7.3" fill="#ff0000" stroke="#ffff00" stroke-width="0.8"/>
<rect x="470.35" y="333.25" width="7.3" height="7.3" fill="#ff0000" stroke="#ffff00" stroke-width="0.8"/>
<rect x="519.55" y="321.35" width="7.3" height="7.3" fill="#ff0000" stroke="#ffff00" stroke-width="0.8"/>
<rect x="568.75" y="292.35" width="7.3" height="7.3" fill="#ff0000" stroke="#ffff00" stroke-width="0.8"/>
<rect x="617.95" y="273.05" width="7.3" height="7.3" fill="#ff0000" stroke="#ffff00" stroke-width="0.8"/>
<rect x="667.15" y="319.65" width="7.3" height="7.3" fill="#ff0000" stroke="#ffff00" stroke-width="0.8"/>
<rect x="447.3" y="267.6" width="110.7" height="17.3" fill="#ffff00"/>
<text transform="translate(502.65,281.1) scale(1,1.07)" font-size="11.3" text-anchor="middle" font-weight="bold" fill="#000" stroke="#000" stroke-width="0.3">3.54 <tspan dy="0.3" stroke-width="0">*</tspan><tspan dy="-0.3"> </tspan>10<tspan dy="-4.4" font-size="8.2">-9</tspan><tspan dy="4.4"> (cm</tspan><tspan dy="-4.4" font-size="8.2">2</tspan><tspan dy="4.4"> V</tspan><tspan dy="-4.4" font-size="8.2">-1</tspan><tspan dy="4.4"> s</tspan><tspan dy="-4.4" font-size="8.2">-1</tspan><tspan dy="4.4">)</tspan></text>
<text transform="translate(656.8,273.6) scale(1,1.07)" font-size="10.1" text-anchor="middle" font-weight="bold" fill="#34944d">Saturated</text>
<text transform="translate(656.8,285.9) scale(1,1.07)" font-size="10.1" text-anchor="middle" font-weight="bold" fill="#34944d">Region</text>
<line x1="407" y1="394.8" x2="412.8" y2="394.8" stroke="#000" stroke-width="1.7"/>
<text transform="translate(403.4,399.1) scale(1,1.07)" font-size="12.4" text-anchor="end" font-weight="bold" fill="#000" stroke="#000" stroke-width="0.3">2.43E+22</text>
<line x1="407" y1="419.75" x2="412.8" y2="419.75" stroke="#000" stroke-width="1.7"/>
<text transform="translate(403.4,424.05) scale(1,1.07)" font-size="12.4" text-anchor="end" font-weight="bold" fill="#000" stroke="#000" stroke-width="0.3">1.62E+22</text>
<line x1="407" y1="444.7" x2="412.8" y2="444.7" stroke="#000" stroke-width="1.7"/>
<text transform="translate(403.4,449) scale(1,1.07)" font-size="12.4" text-anchor="end" font-weight="bold" fill="#000" stroke="#000" stroke-width="0.3">8.10E+21</text>
<line x1="407" y1="469.65" x2="412.8" y2="469.65" stroke="#000" stroke-width="1.7"/>
<text transform="translate(403.4,473.95) scale(1,1.07)" font-size="12.4" text-anchor="end" font-weight="bold" fill="#000" stroke="#000" stroke-width="0.3">1.06E+21</text>
<line x1="424.8" y1="479.8" x2="424.8" y2="485.4" stroke="#000" stroke-width="1.7"/>
<text transform="translate(425,498.4) scale(1,1.07)" font-size="12.5" text-anchor="middle" font-weight="bold" fill="#000" stroke="#000" stroke-width="0.3">8</text>
<line x1="474" y1="479.8" x2="474" y2="485.4" stroke="#000" stroke-width="1.7"/>
<text transform="translate(474.18,498.4) scale(1,1.07)" font-size="12.5" text-anchor="middle" font-weight="bold" fill="#000" stroke="#000" stroke-width="0.3">16</text>
<line x1="523.2" y1="479.8" x2="523.2" y2="485.4" stroke="#000" stroke-width="1.7"/>
<text transform="translate(523.36,498.4) scale(1,1.07)" font-size="12.5" text-anchor="middle" font-weight="bold" fill="#000" stroke="#000" stroke-width="0.3">24</text>
<line x1="572.4" y1="479.8" x2="572.4" y2="485.4" stroke="#000" stroke-width="1.7"/>
<text transform="translate(572.54,498.4) scale(1,1.07)" font-size="12.5" text-anchor="middle" font-weight="bold" fill="#000" stroke="#000" stroke-width="0.3">32</text>
<line x1="621.6" y1="479.8" x2="621.6" y2="485.4" stroke="#000" stroke-width="1.7"/>
<text transform="translate(621.72,498.4) scale(1,1.07)" font-size="12.5" text-anchor="middle" font-weight="bold" fill="#000" stroke="#000" stroke-width="0.3">40</text>
<line x1="670.8" y1="479.8" x2="670.8" y2="485.4" stroke="#000" stroke-width="1.7"/>
<text transform="translate(670.9,498.4) scale(1,1.07)" font-size="12.5" text-anchor="middle" font-weight="bold" fill="#000" stroke="#000" stroke-width="0.3">48</text>
<rect x="412.8" y="381" width="269.8" height="98.8" fill="none" stroke="#000" stroke-width="1.7"/>
<text transform="translate(349.1,429.7) rotate(-90)" font-size="12.7" text-anchor="middle" fill="#000">Number Density (n)</text>
<line x1="555.8" y1="394.35" x2="561.5" y2="394.39" stroke="#ff1a8c" stroke-width="1.5"/>
<line x1="566.1" y1="394.43" x2="571.8" y2="394.47" stroke="#ff1a8c" stroke-width="1.5"/>
<line x1="576.4" y1="394.5" x2="582.1" y2="394.55" stroke="#ff1a8c" stroke-width="1.5"/>
<line x1="586.7" y1="394.58" x2="592.4" y2="394.62" stroke="#ff1a8c" stroke-width="1.5"/>
<line x1="597" y1="394.66" x2="602.7" y2="394.7" stroke="#ff1a8c" stroke-width="1.5"/>
<line x1="607.3" y1="394.73" x2="613" y2="394.77" stroke="#ff1a8c" stroke-width="1.5"/>
<line x1="617.6" y1="394.81" x2="623.3" y2="394.85" stroke="#ff1a8c" stroke-width="1.5"/>
<line x1="627.9" y1="394.88" x2="633.6" y2="394.93" stroke="#ff1a8c" stroke-width="1.5"/>
<line x1="638.2" y1="394.96" x2="643.9" y2="395" stroke="#ff1a8c" stroke-width="1.5"/>
<line x1="648.5" y1="395.04" x2="654.2" y2="395.08" stroke="#ff1a8c" stroke-width="1.5"/>
<line x1="658.8" y1="395.11" x2="664.5" y2="395.15" stroke="#ff1a8c" stroke-width="1.5"/>
<path d="M543.5,394.26 L554.1,391.44 L551.7,394.32 L554.1,397.24 Z" fill="#ff1a8c"/>
<line x1="455.7" y1="393.61" x2="450" y2="393.57" stroke="#ff1a8c" stroke-width="1.5"/>
<line x1="445.4" y1="393.54" x2="439.7" y2="393.49" stroke="#ff1a8c" stroke-width="1.5"/>
<line x1="435.1" y1="393.46" x2="429.4" y2="393.42" stroke="#ff1a8c" stroke-width="1.5"/>
<line x1="424.8" y1="393.38" x2="420.9" y2="393.36" stroke="#ff1a8c" stroke-width="1.5"/>
<path d="M413.4,393.3 L424,390.48 L421.6,393.36 L424,396.28 Z" fill="#ff1a8c"/>
<line x1="670.8" y1="465.3" x2="670.8" y2="395.4" stroke="#ff1a8c" stroke-width="1.5" stroke-dasharray="5.9 4.3"/>
<path d="M670.8,476.6 L667.9,466 L670.8,468.4 L673.7,466 Z" fill="#ff1a8c"/>
<polyline points="424.8,466.4 474,460.4 523.2,451.2 572.4,428.6 621.6,405 670.8,395.4" fill="none" stroke="#000099" stroke-width="3.4" stroke-linejoin="round"/>
<rect x="421.15" y="462.75" width="7.3" height="7.3" fill="#ff0000" stroke="#ffff00" stroke-width="0.8"/>
<rect x="470.35" y="456.75" width="7.3" height="7.3" fill="#ff0000" stroke="#ffff00" stroke-width="0.8"/>
<rect x="519.55" y="447.55" width="7.3" height="7.3" fill="#ff0000" stroke="#ffff00" stroke-width="0.8"/>
<rect x="568.75" y="424.95" width="7.3" height="7.3" fill="#ff0000" stroke="#ffff00" stroke-width="0.8"/>
<rect x="617.95" y="401.35" width="7.3" height="7.3" fill="#ff0000" stroke="#ffff00" stroke-width="0.8"/>
<rect x="667.15" y="391.75" width="7.3" height="7.3" fill="#ff0000" stroke="#ffff00" stroke-width="0.8"/>
<rect x="457" y="386.1" width="84.7" height="17.1" fill="#ffff00"/>
<text transform="translate(499.35,399.4) scale(1,1.07)" font-size="11.3" text-anchor="middle" font-weight="bold" fill="#000" stroke="#000" stroke-width="0.3">2.42 <tspan dy="0.3" stroke-width="0">*</tspan><tspan dy="-0.3"> </tspan>10<tspan dy="-4.4" font-size="8.2">22</tspan><tspan dy="4.4"> (cm</tspan><tspan dy="-4.4" font-size="8.2">-3</tspan><tspan dy="4.4">)</tspan></text>
<text transform="translate(548,515.6) scale(1,1.07)" font-size="12.8" text-anchor="middle" font-weight="normal" fill="#000">Salt Concentration (w.t.%)</text>
</svg></body></html>
